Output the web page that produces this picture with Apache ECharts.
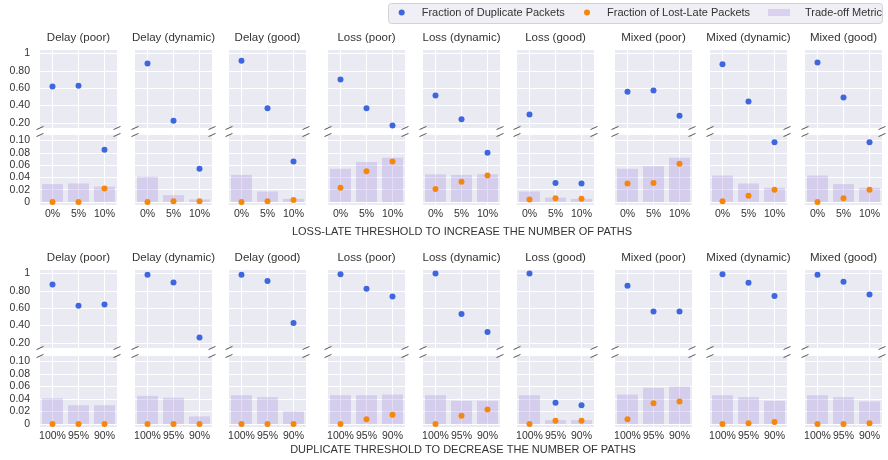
<!DOCTYPE html>
<html><head><meta charset="utf-8">
<script src="https://cdn.jsdelivr.net/npm/echarts@6/dist/echarts.min.js"></script>
<style>html,body{margin:0;padding:0;background:#fff}#c{width:888px;height:460px}</style>
</head><body><div id="c"></div><script>
const panelTitles = ['Delay (poor)','Delay (dynamic)','Delay (good)','Loss (poor)','Loss (dynamic)','Loss (good)','Mixed (poor)','Mixed (dynamic)','Mixed (good)'];
const lossLateCats = ['0%','5%','10%'];
const duplicateCats = ['100%','95%','90%'];
const topTicks = [0.2,0.4,0.6,0.8,1];
const bottomTicks = [0,0.02,0.04,0.06,0.08,0.1];
const axisTitles = ['LOSS-LATE THRESHOLD TO INCREASE THE NUMBER OF PATHS','DUPLICATE THRESHOLD TO DECREASE THE NUMBER OF PATHS'];
const seriesNames = ['Fraction of Duplicate Packets','Fraction of Lost-Late Packets','Trade-off Metric'];

// Row 1: loss-late threshold
const dupLossLate = [
 [0.619,0.627,0.085],
 [0.885,0.223,0.054],
 [0.915,0.369,0.066],
 [0.700,0.369,0.169],
 [0.515,0.242,0.080],
 [0.296,0.031,0.030],
 [0.558,0.573,0.281],
 [0.877,0.446,0.097],
 [0.896,0.492,0.097]];
const lostLossLate = [
 [0.000,0.000,0.022],
 [0.000,0.001,0.001],
 [0.000,0.001,0.003],
 [0.023,0.050,0.066],
 [0.021,0.033,0.043],
 [0.004,0.006,0.005],
 [0.030,0.031,0.062],
 [0.001,0.010,0.020],
 [0.000,0.006,0.020]];
const tradeLossLate = [
 [0.029,0.030,0.025],
 [0.041,0.011,0.004],
 [0.044,0.017,0.005],
 [0.054,0.065,0.072],
 [0.045,0.044,0.045],
 [0.017,0.007,0.005],
 [0.054,0.058,0.072],
 [0.043,0.030,0.023],
 [0.043,0.029,0.023]];
// Row 2: duplicate threshold
const dupDuplicate = [
 [0.874,0.627,0.642],
 [0.985,0.897,0.261],
 [0.985,0.912,0.429],
 [0.992,0.825,0.733],
 [1.000,0.533,0.324],
 [1.000,0.034,0.030],
 [0.859,0.562,0.562],
 [0.992,0.893,0.741],
 [0.985,0.905,0.756]];
const lostDuplicate = [
 [0.000,0.000,0.000],
 [0.000,0.000,0.000],
 [0.000,0.000,0.000],
 [0.000,0.0075,0.0145],
 [0.000,0.013,0.023],
 [0.000,0.005,0.005],
 [0.0075,0.033,0.036],
 [0.000,0.001,0.003],
 [0.000,0.000,0.001]];
const tradeDuplicate = [
 [0.041,0.030,0.030],
 [0.045,0.042,0.012],
 [0.046,0.043,0.020],
 [0.046,0.046,0.047],
 [0.046,0.037,0.037],
 [0.046,0.006,0.006],
 [0.047,0.058,0.060],
 [0.046,0.043,0.037],
 [0.046,0.043,0.036]];

// ---- layout / style ----
const colLeft = [40,135,229,328,423,517,615,710,805];
const colW = 77;
const rowsLayout = [
 {titleY:38, topY:50, topH:78, botY:135, botH:70, axisTitleY:232, axisTitleX:462},
 {titleY:258, topY:270, topH:78, botY:356, botH:71, axisTitleY:450, axisTitleX:463}];
const X_MIN = -0.48, X_MAX = 2.48;
const TOP_MIN = 0.14, TOP_MAX = 1.04, BOT_MIN = -0.005, BOT_MAX = 0.109, BREAK = 0.11;
const BLUE = '#3D66DF', ORANGE = '#F5870F', BAR = 'rgba(147,112,219,0.24)';
const TXT = '#333';
const FONT = '"Liberation Sans", Arial, sans-serif';

const grids=[], xAxes=[], yAxes=[], series=[], graphics=[];
const fmtY = v => Math.abs(v-1)<1e-9 ? '1' : (Math.abs(v)<1e-9 ? '0' : v.toFixed(2));

function addPanel(r, c, cats, dup, lost, trade){
  const L = rowsLayout[r];
  const left = colLeft[c];
  const g = grids.length;
  grids.push({left, top:L.topY, width:colW, height:L.topH, show:true, backgroundColor:'#EAEAF2', borderWidth:0});
  grids.push({left, top:L.botY, width:colW, height:L.botH, show:true, backgroundColor:'#EAEAF2', borderWidth:0});
  [0,1].forEach(k=>{
    xAxes.push({type:'value', gridIndex:g+k, min:X_MIN, max:X_MAX,
      axisLine:{show:false}, axisTick:{show:false, customValues:[0,1,2]},
      splitLine:{show:true, lineStyle:{color:'#fff', width:1}},
      axisLabel:{show:k===1, customValues:[0,1,2], formatter:v=>cats[Math.round(v)], color:TXT, fontSize:10.5, fontFamily:FONT, margin:4}});
  });
  yAxes.push({type:'value', gridIndex:g, min:TOP_MIN, max:TOP_MAX,
    axisLine:{show:false}, axisTick:{show:false, customValues:topTicks},
    splitLine:{show:true, lineStyle:{color:'#fff', width:1}},
    axisLabel:{show:c===0, customValues:topTicks, formatter:fmtY, color:TXT, fontSize:10.5, fontFamily:FONT, margin:10}});
  yAxes.push({type:'value', gridIndex:g+1, min:BOT_MIN, max:BOT_MAX,
    axisLine:{show:false}, axisTick:{show:false, customValues:bottomTicks},
    splitLine:{show:true, lineStyle:{color:'#fff', width:1}},
    axisLabel:{show:c===0, customValues:bottomTicks, formatter:fmtY, color:TXT, fontSize:10.5, fontFamily:FONT, margin:10}});

  series.push({name:seriesNames[2], type:'bar', xAxisIndex:g+1, yAxisIndex:g+1,
    data:trade[c].map((v,i)=>[i,v]), barWidth:21, itemStyle:{color:BAR}, z:2, silent:true});
  [[dup,BLUE,seriesNames[0]],[lost,ORANGE,seriesNames[1]]].forEach(([arr,col,name])=>{
    const pts = arr[c].map((v,i)=>[i,v]);
    series.push({name, type:'scatter', xAxisIndex:g, yAxisIndex:g, data:pts.filter(d=>d[1]>BREAK),
      symbolSize:6, itemStyle:{color:col, opacity:1}, z:3, silent:true});
    series.push({name, type:'scatter', xAxisIndex:g+1, yAxisIndex:g+1, data:pts.filter(d=>d[1]<=BREAK),
      symbolSize:6, itemStyle:{color:col, opacity:1}, z:3, silent:true});
  });

  graphics.push({type:'text', x:left+colW/2, y:L.titleY, z:10,
    style:{text:panelTitles[c], fill:TXT, font:'11.5px '+FONT, align:'center', verticalAlign:'middle'}});
  // break marks
  [left, left+colW].forEach(x=>{
    [L.topY+L.topH, L.botY].forEach(y=>{
      graphics.push({type:'line', z:10, shape:{x1:x-3.5, y1:y+1.6, x2:x+3.5, y2:y-1.6},
        style:{stroke:'#555', lineWidth:1}});
    });
  });
}

for (let c=0;c<9;c++){
  addPanel(0,c,lossLateCats,dupLossLate,lostLossLate,tradeLossLate);
  addPanel(1,c,duplicateCats,dupDuplicate,lostDuplicate,tradeDuplicate);
}
rowsLayout.forEach((L,r)=>{
  graphics.push({type:'text', x:L.axisTitleX, y:L.axisTitleY, z:10,
    style:{text:axisTitles[r], fill:TXT, font:'11px '+FONT, align:'center', verticalAlign:'middle'}});
});
// legend frame
graphics.push({type:'rect', z:0, shape:{x:388.5, y:3.5, width:494, height:20, r:3},
  style:{fill:'#EFEFF5', stroke:'#D2D2D8', lineWidth:1}});

const legendBase = {orient:'horizontal', top:7, padding:0, selectedMode:false, itemHeight:6, itemWidth:6,
  textStyle:{color:TXT, fontSize:11, fontFamily:FONT}};
const legends = [
  Object.assign({}, legendBase, {left:398.7, data:[{name:seriesNames[0], icon:'circle'}], textStyle:Object.assign({}, legendBase.textStyle, {padding:[0,0,0,12]})}),
  Object.assign({}, legendBase, {left:584, data:[{name:seriesNames[1], icon:'circle'}], textStyle:Object.assign({}, legendBase.textStyle, {padding:[0,0,0,12]})}),
  Object.assign({}, legendBase, {left:768, itemWidth:22, itemHeight:7, data:[{name:seriesNames[2], icon:'rect'}], textStyle:Object.assign({}, legendBase.textStyle, {padding:[0,0,0,10]})})
];

const chart = echarts.init(document.getElementById('c'), null, {renderer:'canvas'});
chart.setOption({
  animation:false,
  backgroundColor:'#fff',
  textStyle:{fontFamily:FONT},
  legend:legends,
  grid:grids, xAxis:xAxes, yAxis:yAxes, series, graphic:graphics
});
</script></body></html>
